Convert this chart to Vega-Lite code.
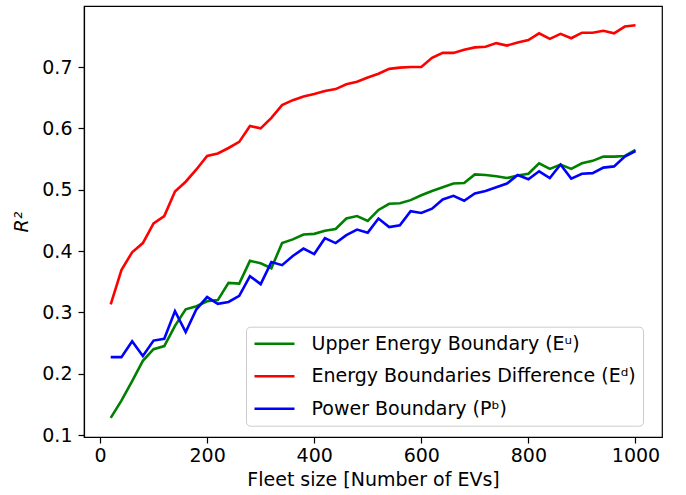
{
  "$schema": "https://vega.github.io/schema/vega-lite/v6.json",
  "width": 578,
  "height": 431,
  "autosize": {"type": "none"},
  "padding": {"left": 84, "top": 6, "right": 24, "bottom": 58},
  "background": "white",
  "config": {
    "font": "DejaVu Sans",
    "view": {"stroke": "black", "strokeWidth": 1.2},
    "axis": {
      "grid": false,
      "domainColor": "black",
      "domainWidth": 1.2,
      "tickColor": "black",
      "tickWidth": 1.2,
      "tickSize": 6,
      "labelColor": "black",
      "labelFontSize": 19,
      "titleFontSize": 19,
      "titleFontWeight": "normal",
      "titleColor": "black"
    }
  },
  "data": {
    "values": [
      {"x": 20, "Eu": 0.128, "Ed": 0.313, "Pb": 0.227},
      {"x": 40, "Eu": 0.156, "Ed": 0.369, "Pb": 0.227},
      {"x": 60, "Eu": 0.188, "Ed": 0.398, "Pb": 0.253},
      {"x": 80, "Eu": 0.221, "Ed": 0.413, "Pb": 0.229},
      {"x": 100, "Eu": 0.240, "Ed": 0.445, "Pb": 0.254},
      {"x": 120, "Eu": 0.245, "Ed": 0.457, "Pb": 0.257},
      {"x": 140, "Eu": 0.278, "Ed": 0.497, "Pb": 0.302},
      {"x": 160, "Eu": 0.305, "Ed": 0.513, "Pb": 0.268},
      {"x": 180, "Eu": 0.310, "Ed": 0.533, "Pb": 0.305},
      {"x": 200, "Eu": 0.318, "Ed": 0.555, "Pb": 0.325},
      {"x": 220, "Eu": 0.320, "Ed": 0.559, "Pb": 0.314},
      {"x": 240, "Eu": 0.348, "Ed": 0.568, "Pb": 0.317},
      {"x": 260, "Eu": 0.347, "Ed": 0.578, "Pb": 0.327},
      {"x": 280, "Eu": 0.384, "Ed": 0.604, "Pb": 0.359},
      {"x": 300, "Eu": 0.380, "Ed": 0.600, "Pb": 0.346},
      {"x": 320, "Eu": 0.372, "Ed": 0.617, "Pb": 0.382},
      {"x": 340, "Eu": 0.413, "Ed": 0.638, "Pb": 0.377},
      {"x": 360, "Eu": 0.419, "Ed": 0.646, "Pb": 0.392},
      {"x": 380, "Eu": 0.427, "Ed": 0.652, "Pb": 0.404},
      {"x": 400, "Eu": 0.428, "Ed": 0.656, "Pb": 0.395},
      {"x": 420, "Eu": 0.433, "Ed": 0.661, "Pb": 0.421},
      {"x": 440, "Eu": 0.436, "Ed": 0.664, "Pb": 0.413},
      {"x": 460, "Eu": 0.453, "Ed": 0.672, "Pb": 0.426},
      {"x": 480, "Eu": 0.457, "Ed": 0.676, "Pb": 0.435},
      {"x": 500, "Eu": 0.449, "Ed": 0.683, "Pb": 0.430},
      {"x": 520, "Eu": 0.467, "Ed": 0.689, "Pb": 0.453},
      {"x": 540, "Eu": 0.477, "Ed": 0.697, "Pb": 0.439},
      {"x": 560, "Eu": 0.478, "Ed": 0.699, "Pb": 0.442},
      {"x": 580, "Eu": 0.483, "Ed": 0.700, "Pb": 0.465},
      {"x": 600, "Eu": 0.491, "Ed": 0.700, "Pb": 0.462},
      {"x": 620, "Eu": 0.498, "Ed": 0.715, "Pb": 0.469},
      {"x": 640, "Eu": 0.504, "Ed": 0.723, "Pb": 0.484},
      {"x": 660, "Eu": 0.510, "Ed": 0.723, "Pb": 0.490},
      {"x": 680, "Eu": 0.511, "Ed": 0.728, "Pb": 0.482},
      {"x": 700, "Eu": 0.525, "Ed": 0.732, "Pb": 0.494},
      {"x": 720, "Eu": 0.524, "Ed": 0.733, "Pb": 0.498},
      {"x": 740, "Eu": 0.522, "Ed": 0.739, "Pb": 0.504},
      {"x": 760, "Eu": 0.519, "Ed": 0.735, "Pb": 0.510},
      {"x": 780, "Eu": 0.523, "Ed": 0.740, "Pb": 0.524},
      {"x": 800, "Eu": 0.526, "Ed": 0.744, "Pb": 0.517},
      {"x": 820, "Eu": 0.543, "Ed": 0.755, "Pb": 0.530},
      {"x": 840, "Eu": 0.534, "Ed": 0.746, "Pb": 0.519},
      {"x": 860, "Eu": 0.541, "Ed": 0.754, "Pb": 0.541},
      {"x": 880, "Eu": 0.534, "Ed": 0.747, "Pb": 0.518},
      {"x": 900, "Eu": 0.543, "Ed": 0.756, "Pb": 0.526},
      {"x": 920, "Eu": 0.547, "Ed": 0.756, "Pb": 0.527},
      {"x": 940, "Eu": 0.554, "Ed": 0.759, "Pb": 0.536},
      {"x": 960, "Eu": 0.554, "Ed": 0.755, "Pb": 0.538},
      {"x": 980, "Eu": 0.555, "Ed": 0.766, "Pb": 0.554},
      {"x": 1000, "Eu": 0.565, "Ed": 0.768, "Pb": 0.563}
    ]
  },
  "transform": [
    {"fold": ["Eu", "Ed", "Pb"], "as": ["series", "r2"]}
  ],
  "mark": {"type": "line", "strokeWidth": 2.6},
  "encoding": {
    "x": {
      "field": "x",
      "type": "quantitative",
      "scale": {"domain": [-29.9, 1049.5], "nice": false, "zero": false},
      "axis": {"title": "Fleet size [Number of EVs]", "values": [0, 200, 400, 600, 800, 1000], "format": "d", "labelPadding": 3, "titlePadding": 5}
    },
    "y": {
      "field": "r2",
      "type": "quantitative",
      "scale": {"domain": [0.0968, 0.7995], "nice": false, "zero": false},
      "axis": {"title": "R²", "values": [0.1, 0.2, 0.3, 0.4, 0.5, 0.6, 0.7], "format": ".1f", "labelPadding": 6, "titlePadding": 10, "titleFontStyle": "italic"}
    },
    "color": {
      "field": "series",
      "type": "nominal",
      "scale": {"domain": ["Eu", "Ed", "Pb"], "range": ["#008000", "#ff0000", "#0000ff"]},
      "legend": {
        "title": null,
        "orient": "none",
        "legendX": 162,
        "legendY": 320.7,
        "symbolType": "stroke",
        "symbolSize": 1600,
        "symbolStrokeWidth": 2.6,
        "labelFontSize": 19,
        "labelColor": "black",
        "labelLimit": 0,
        "labelOffset": 15.5,
        "clipHeight": 20,
        "rowPadding": 12.5,
        "padding": 7,
        "strokeColor": "#cccccc",
        "fillColor": "white",
        "cornerRadius": 4,
        "labelExpr": "datum.value == 'Eu' ? 'Upper Energy Boundary (Eᵘ)' : datum.value == 'Ed' ? 'Energy Boundaries Difference (Eᵈ)' : 'Power Boundary (Pᵇ)'"
      }
    }
  }
}
